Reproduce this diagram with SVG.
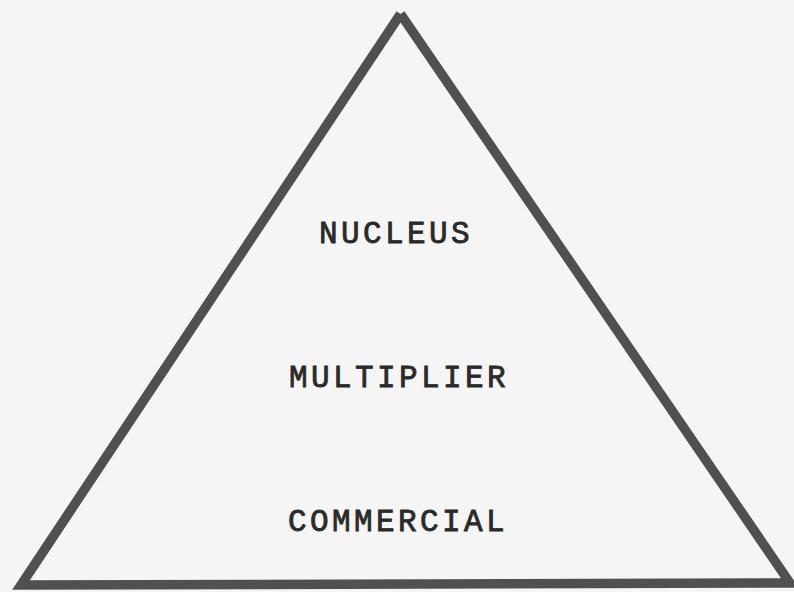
<svg xmlns="http://www.w3.org/2000/svg" width="794" height="592" viewBox="0 0 794 592">
  <style>
    .frame { fill: none; stroke: #505050; stroke-width: 9.5; stroke-linejoin: miter; stroke-linecap: butt; }
    .tier { font-family: "Liberation Mono", "Courier New", monospace; font-size: 31px; fill: #2a2a2a; stroke: #2a2a2a; stroke-width: 0.8; letter-spacing: 3.4px; text-anchor: middle; }
  </style>
  <rect width="794" height="592" fill="#f5f5f5"/>
  <!-- pyramid outline, opened at the apex so the peak stays blunt -->
  <g id="pyramid">
    <path class="frame" d="M 400.5,14 L 21,585 L 790,583 L 400.5,14"/>
  </g>
  <g id="nucleus">
    <text class="tier" x="396" y="243">NUCLEUS</text>
  </g>
  <g id="multiplier">
    <text class="tier" x="399" y="387">MULTIPLIER</text>
  </g>
  <g id="commercial">
    <text class="tier" x="398" y="531">COMMERCIAL</text>
  </g>
</svg>
